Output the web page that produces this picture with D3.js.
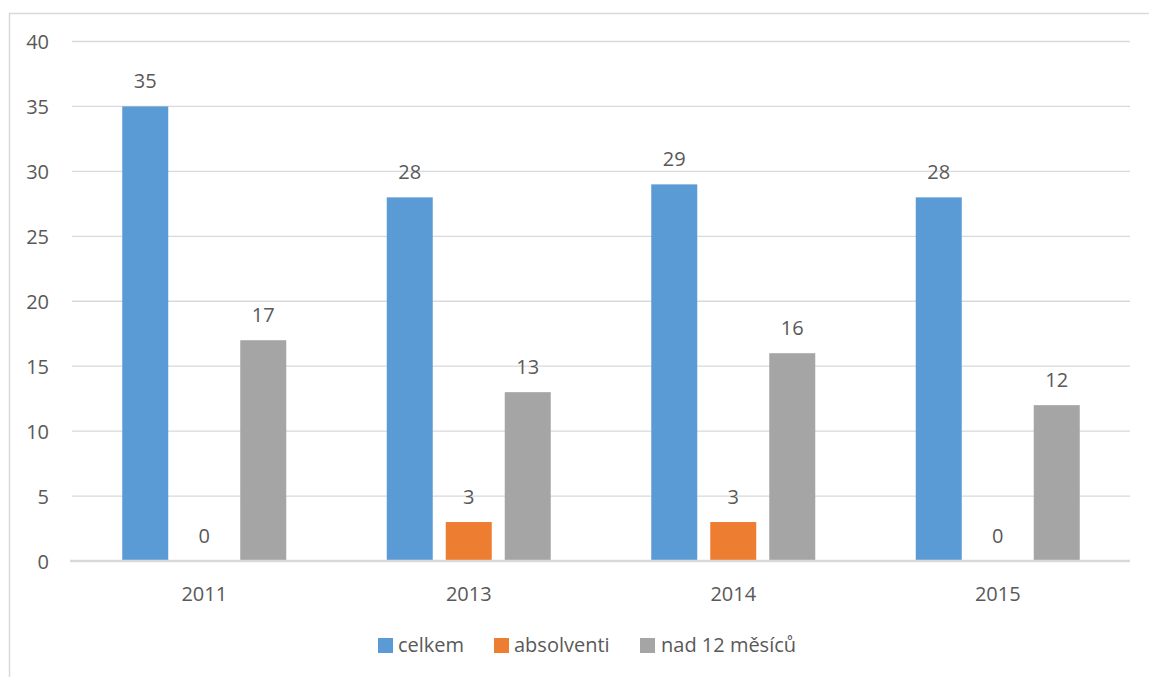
<!DOCTYPE html>
<html>
<head>
<meta charset="utf-8">
<script src="https://cdn.jsdelivr.net/npm/d3@7"></script>
<style>
  html, body { margin: 0; padding: 0; background: #fff; }
  svg { display: block; }
  text { font-family: "Open Sans", sans-serif; fill: #595959; }
</style>
</head>
<body>
<svg id="chart" width="1149" height="677"></svg>
<script>
const categories = ["2011", "2013", "2014", "2015"];
const seriesNames = ["celkem", "absolventi", "nad 12 měsíců"];
const celkem = [35, 28, 29, 28];
const absolventi = [0, 3, 3, 0];
const nad12 = [17, 13, 16, 12];
const yTicks = [0, 5, 10, 15, 20, 25, 30, 35, 40];
const colors = ["#5B9BD5", "#ED7D31", "#A5A5A5"];

const seriesValues = [celkem, absolventi, nad12];
const data = categories.map((c, i) => ({
  cat: c,
  vals: seriesNames.map((s, j) => ({ series: s, idx: j, value: seriesValues[j][i] }))
}));

const svg = d3.select("#chart");
const W = 1149, H = 677;
const plot = { left: 72, right: 1130, top: 41.5, bottom: 561 };

// outer chart border
svg.append("rect")
  .attr("x", 9.5).attr("y", 13.5)
  .attr("width", W + 20).attr("height", H + 20)
  .attr("fill", "none").attr("stroke", "#D9D9D9").attr("stroke-width", 1.5);

const x0 = d3.scaleBand().domain(categories).range([plot.left, plot.right]).paddingInner(0).paddingOuter(0);
const x1 = d3.scaleBand().domain(seriesNames).range([-82, 82]).paddingInner(13 / 59).paddingOuter(0);
const y = d3.scaleLinear().domain([0, 40]).range([plot.bottom, plot.top]);

// gridlines
svg.append("g").selectAll("line")
  .data(yTicks.filter(t => t !== 0))
  .join("line")
  .attr("x1", plot.left).attr("x2", plot.right)
  .attr("y1", d => y(d)).attr("y2", d => y(d))
  .attr("stroke", "#D9D9D9").attr("stroke-width", 1.3);

// y axis labels
const yAxis = d3.axisLeft(y).tickValues(yTicks).tickSize(0).tickPadding(0);
const gy = svg.append("g").attr("transform", `translate(${plot.left - 23},0)`).call(yAxis);
gy.select(".domain").remove();
gy.selectAll("text").attr("font-size", 20).attr("font-family", "Open Sans, sans-serif").attr("fill", "#595959").attr("dy", "0.35em");

// bars
const groups = svg.append("g").selectAll("g")
  .data(data).join("g")
  .attr("transform", d => `translate(${x0(d.cat) + x0.bandwidth() / 2},0)`);

groups.selectAll("rect")
  .data(d => d.vals).join("rect")
  .attr("x", d => x1(d.series))
  .attr("width", x1.bandwidth())
  .attr("y", d => y(d.value))
  .attr("height", d => y(0) - y(d.value))
  .attr("fill", d => colors[d.idx]);

groups.selectAll("text.lbl")
  .data(d => d.vals).join("text")
  .attr("class", "lbl")
  .attr("x", d => x1(d.series) + x1.bandwidth() / 2)
  .attr("y", d => y(d.value) - 18)
  .attr("text-anchor", "middle")
  .attr("font-size", 20)
  .text(d => d.value);

// baseline axis
const xAxis = d3.axisBottom(x0).tickSize(0).tickPadding(0);
const gx = svg.append("g").attr("transform", `translate(0,${plot.bottom})`).call(xAxis);
gx.select(".domain").attr("stroke", "#D9D9D9").attr("stroke-width", 2.5)
  .attr("d", `M${plot.left - 2},0H${plot.right}`);
gx.selectAll("text").attr("font-size", 20).attr("font-family", "Open Sans, sans-serif").attr("fill", "#595959").attr("dy", "0").attr("y", 40);

// legend
const legendItems = [
  { name: seriesNames[0], sx: 378, tx: 398 },
  { name: seriesNames[1], sx: 494, tx: 514 },
  { name: seriesNames[2], sx: 640, tx: 661 }
];
const lg = svg.append("g");
legendItems.forEach((it, i) => {
  lg.append("rect").attr("x", it.sx).attr("y", 638).attr("width", 15).attr("height", 15).attr("fill", colors[i]);
  lg.append("text").attr("x", it.tx).attr("y", 652).attr("font-size", 20).text(it.name);
});
</script>
</body>
</html>
